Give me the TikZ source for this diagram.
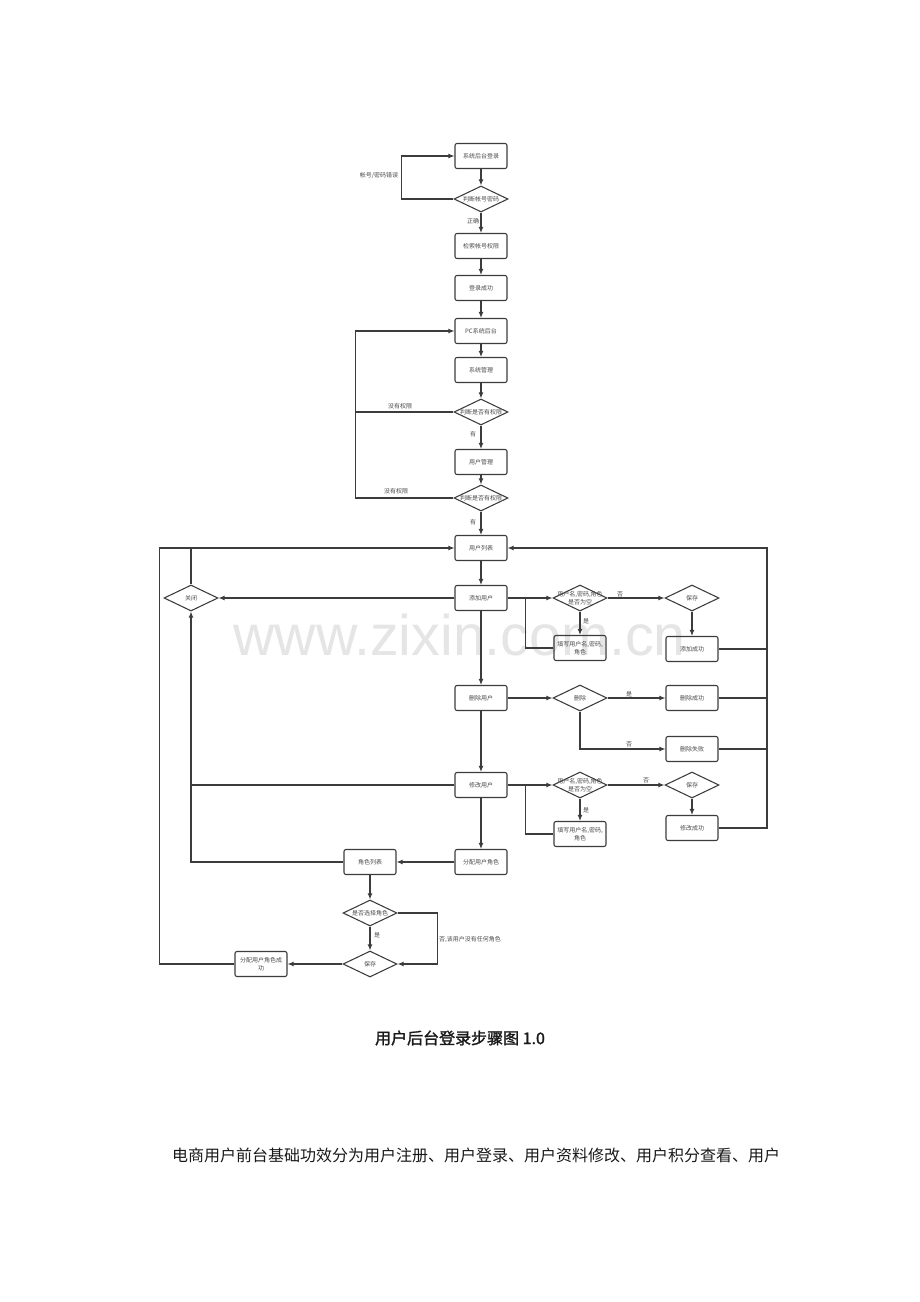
\documentclass[tikz,border=0pt]{standalone}
\usepackage{fontspec}
\setmainfont{Noto Sans CJK SC}
\newfontfamily\cjkb{Noto Sans CJK SC}[FakeBold=1.6]
\newfontfamily\wmfont{Liberation Sans}
\usetikzlibrary{shapes.geometric,arrows.meta,calc}
\definecolor{lc}{HTML}{3C3C3C}
\definecolor{tc}{HTML}{4A4A4A}
\tikzset{
  tiny/.style={font=\fontsize{4.5}{6}\selectfont, text=tc, align=center, inner sep=0pt},
  box/.style={tiny, draw=lc, line width=0.8pt, rounded corners=1.5pt, minimum width=39pt, minimum height=18.75pt},
  dia/.style={diamond, draw=lc, line width=0.8pt, minimum width=40.5pt, minimum height=19.5pt, inner sep=0pt, label={[tiny]center:#1}},
  ln/.style={draw=lc, line width=0.8pt},
  ar/.style={ln, -{Latex[length=4.5pt,width=3.6pt]}},
  lab/.style={tiny}
}
\begin{document}
\begin{tikzpicture}[x=0.75pt,y=-0.75pt]
\fill[white] (0,0) rectangle (920,1302);
\useasboundingbox (0,0) rectangle (920,1302);
% watermark
\node[anchor=base west, inner sep=0pt, text=black!10, font=\wmfont\fontsize{43}{50}\selectfont] (wm) at (233,655) {www.zixin.com.cn};
% nodes
\node[box] (n1) at (481,156) {系统后台登录};
\node[dia=判断帐号密码] (d1) at (481,199) {};
\node[box] (n2) at (481,246) {检索帐号权限};
\node[box] (n3) at (481,288) {登录成功};
\node[box] (n4) at (481,331) {PC系统后台};
\node[box] (n5) at (481,370) {系统管理};
\node[dia=判断是否有权限] (d2) at (481,412) {};
\node[box] (n6) at (481,462) {用户管理};
\node[dia=判断是否有权限] (d3) at (481,498) {};
\node[box] (n7) at (481,548) {用户列表};
\node[box] (n8) at (481,598) {添加用户};
\node[dia=关闭] (cl) at (191,598) {};
\node[dia={用户名,密码,角色\\是否为空}] (d4) at (580,598) {};
\node[box] (f1) at (580,648) {填写用户名,密码,\\角色};
\node[dia=保存] (s1) at (692,598) {};
\node[box] (ok1) at (692,649) {添加成功};
\node[box] (n9) at (481,698) {删除用户};
\node[dia=删除] (d5) at (580,698) {};
\node[box] (ok2) at (692,698) {删除成功};
\node[box] (fl) at (692,749) {删除失败};
\node[box] (n10) at (481,785) {修改用户};
\node[dia={用户名,密码,角色\\是否为空}] (d6) at (580,785) {};
\node[box] (f2) at (580,834) {填写用户名,密码,\\角色};
\node[dia=保存] (s2) at (692,785) {};
\node[box] (mo) at (692,828) {修改成功};
\node[box] (n11) at (481,862) {分配用户角色};
\node[box] (n12) at (370,862) {角色列表};
\node[dia=是否选择角色] (d7) at (370,913) {};
\node[dia=保存] (s3) at (370,964) {};
\node[box] (n13) at (261,964) {分配用户角色成\\功};
\coordinate (R) at (767,548);
% connectors top
\draw[ar] (d1.west) -- ++(-52,0) |- (n1.west);
\node[lab] (l1) at (379,175) {帐号/密码错误};
\draw[ar] (n1) -- (d1);
\draw[ar] (d1) -- (n2);
\node[lab] (l2) at (473,221) {正确};
\draw[ar] (n2) -- (n3);
\draw[ar] (n3) -- (n4);
\draw[ar] (n4) -- (n5);
\draw[ar] (n5) -- (d2);
\draw[ar] (d2.west) -- ++(-98,0) coordinate (lp) |- (n4.west);
\node[lab] (l3) at (400,406) {没有权限};
\draw[ar] (d2) -- (n6);
\node[lab] (l4) at (473,434) {有};
\draw[ar] (n6) -- (d3);
\draw[ln] (d3.west) -| (lp);
\node[lab] (l5) at (396,491) {没有权限};
\draw[ar] (d3) -- (n7);
\node[lab] (l6) at (473,522) {有};
\draw[ar] (n7) -- (n8);
\draw[ar] (n8) -- (n9);
\draw[ar] (n9) -- (n10);
\draw[ar] (n10) -- (n11);
% left side
\draw[ar] (n13.west) -- ++(-75,0) |- (n7.west);
\draw[ln] (cl.north) -- (cl.north |- n7.west);
\draw[ar] (n8.west) -- (cl.east);
\draw[ar] (n12.west) -| (cl.south);
\draw[ln] (n10.west) -- (n10.west -| cl.south);
% add branch
\draw[ar] (n8.east) -- (d4.west);
\draw[ln] (f1.west) -| ($(n8.east)+(18,0)$);
\draw[ar] (d4) -- (f1);
\node[lab] (l7) at (586,621) {是};
\draw[ar] (d4) -- (s1);
\node[lab] (l8) at (620,594) {否};
\draw[ar] (s1) -- (ok1);
% delete branch
\draw[ar] (n9) -- (d5);
\draw[ar] (d5) -- (ok2);
\node[lab] (l9) at (629,694) {是};
\draw[ar] (d5.south) |- (fl.west);
\node[lab] (l10) at (629,744) {否};
% modify branch
\draw[ar] (n10) -- (d6);
\draw[ln] (f2.west) -| ($(n10.east)+(18,0)$);
\draw[ar] (d6) -- (f2);
\node[lab] (l11) at (586,810) {是};
\draw[ar] (d6) -- (s2);
\node[lab] (l12) at (646,780) {否};
\draw[ar] (s2) -- (mo);
% right side return
\draw[ar] (mo.east) -| (R) -- (n7.east);
\draw[ln] (ok1.east) -- (ok1.east -| R);
\draw[ln] (ok2.east) -- (ok2.east -| R);
\draw[ln] (fl.east) -- (fl.east -| R);
% assign role
\draw[ar] (n11) -- (n12);
\draw[ar] (n12) -- (d7);
\draw[ar] (d7) -- (s3);
\node[lab] (l13) at (377,935) {是};
\draw[ar] (d7.east) -- ++(40,0) |- (s3.east);
\node[lab] (l14) at (470,940) {否,该用户没有任何角色};
\draw[ar] (s3) -- (n13);
% caption and text
\node[inner sep=0pt, font=\cjkb\fontsize{12}{14}\selectfont, text=black!90] (cap) at (460,1038) {用户后台登录步骤图 1.0};
\node[inner sep=0pt, font=\fontsize{12}{14}\selectfont, text=black!90] (txt) at (476,1155) {电商用户前台基础功效分为用户注册、用户登录、用户资料修改、用户积分查看、用户};
\end{tikzpicture}
\end{document}
